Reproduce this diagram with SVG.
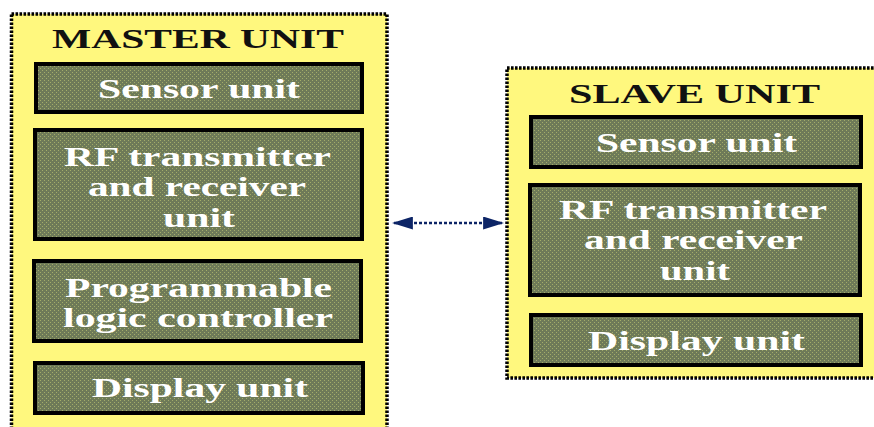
<svg xmlns="http://www.w3.org/2000/svg" width="874" height="427" viewBox="0 0 874 427">
  <defs>
    <!-- stippled olive fill of the inner blocks -->
    <pattern id="stipple" width="4" height="4" patternUnits="userSpaceOnUse">
      <rect width="4" height="4" fill="#6e7a58"/>
      <rect x="0" y="0" width="1" height="1" fill="#a3ac6a"/>
      <rect x="2" y="2" width="1" height="1" fill="#a3ac6a"/>
    </pattern>
    <marker id="head" viewBox="0 0 10 10" refX="9" refY="5" markerWidth="21" markerHeight="13" markerUnits="userSpaceOnUse" preserveAspectRatio="none" orient="auto-start-reverse">
      <path d="M0,0 L10,5 L0,10 Z" fill="#0c2466"/>
    </marker>
  </defs>
  <style>
    .unit { fill: #fff87e; stroke: #000; stroke-width: 3.5; stroke-dasharray: 2.6 1.4; }
    .blk { fill: url(#stipple); stroke: #000; stroke-width: 4; }
    .ttl { font-family: "Liberation Serif", "Times New Roman", serif; font-weight: bold; font-size: 28px; fill: #111; }
    .lbl { font-family: "Liberation Serif", "Times New Roman", serif; font-weight: bold; font-size: 27px; fill: #fff; }
    .link { stroke: #0c2466; stroke-width: 2.5; stroke-dasharray: 3 2; fill: none; }
  </style>

  <rect width="874" height="427" fill="#fff"/>

  <!-- master side -->
  <g id="master-unit">
    <rect class="unit" x="11.5" y="14" width="375.5" height="420"/>
    <text class="ttl" x="52" y="48" textLength="292" lengthAdjust="spacingAndGlyphs">MASTER UNIT</text>
  </g>
  <g id="master-sensor">
    <rect class="blk" x="36" y="64" width="326" height="48"/>
    <text class="lbl" x="98" y="98" textLength="202" lengthAdjust="spacingAndGlyphs">Sensor unit</text>
  </g>
  <g id="master-rf">
    <rect class="blk" x="35" y="130" width="327" height="109"/>
    <text class="lbl" x="64" y="166" textLength="267" lengthAdjust="spacingAndGlyphs">RF transmitter</text>
    <text class="lbl" x="88" y="196" textLength="218" lengthAdjust="spacingAndGlyphs">and receiver</text>
    <text class="lbl" x="163" y="227" textLength="72" lengthAdjust="spacingAndGlyphs">unit</text>
  </g>
  <g id="master-plc">
    <rect class="blk" x="34" y="261" width="327" height="80"/>
    <text class="lbl" x="65" y="297" textLength="267" lengthAdjust="spacingAndGlyphs">Programmable</text>
    <text class="lbl" x="63" y="327" textLength="270" lengthAdjust="spacingAndGlyphs">logic controller</text>
  </g>
  <g id="master-display">
    <rect class="blk" x="35" y="363" width="328" height="50"/>
    <text class="lbl" x="92" y="397" textLength="216" lengthAdjust="spacingAndGlyphs">Display unit</text>
  </g>

  <!-- slave side -->
  <g id="slave-unit">
    <rect class="unit" x="507" y="68" width="380" height="310"/>
    <text class="ttl" x="569" y="103" textLength="251" lengthAdjust="spacingAndGlyphs">SLAVE UNIT</text>
  </g>
  <g id="slave-sensor">
    <rect class="blk" x="531" y="117" width="330" height="50"/>
    <text class="lbl" x="596" y="152" textLength="201" lengthAdjust="spacingAndGlyphs">Sensor unit</text>
  </g>
  <g id="slave-rf">
    <rect class="blk" x="530" y="185" width="330" height="110"/>
    <text class="lbl" x="559" y="219" textLength="268" lengthAdjust="spacingAndGlyphs">RF transmitter</text>
    <text class="lbl" x="584" y="249" textLength="219" lengthAdjust="spacingAndGlyphs">and receiver</text>
    <text class="lbl" x="660" y="280" textLength="70" lengthAdjust="spacingAndGlyphs">unit</text>
  </g>
  <g id="slave-display">
    <rect class="blk" x="531" y="315" width="330" height="50"/>
    <text class="lbl" x="588" y="350" textLength="217" lengthAdjust="spacingAndGlyphs">Display unit</text>
  </g>

  <!-- wireless link -->
  <g id="connectors">
    <line class="link" x1="394" y1="223" x2="502" y2="223" marker-start="url(#head)" marker-end="url(#head)"/>
  </g>
</svg>
